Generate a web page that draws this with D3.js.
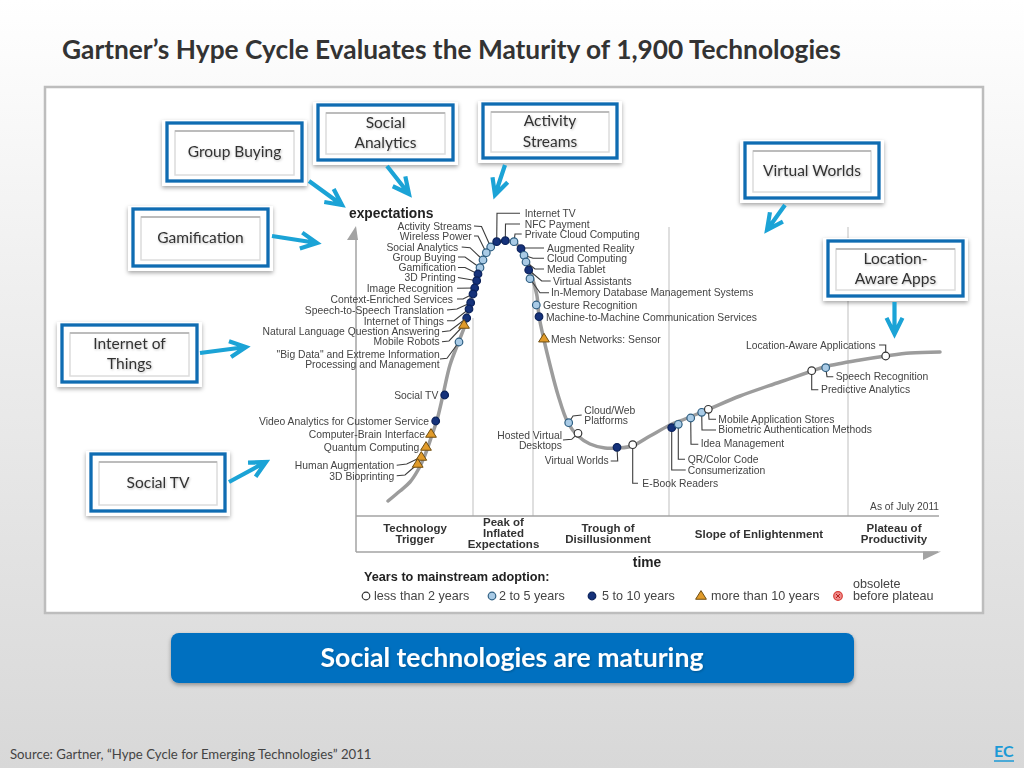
<!DOCTYPE html>
<html>
<head>
<meta charset="utf-8">
<script src="https://cdn.jsdelivr.net/npm/d3@7"></script>
<style>
  html, body { margin: 0; padding: 0; background: #fff; }
  svg { display: block; }
  .tech { font-family: "Liberation Sans", Arial, sans-serif; font-size: 10.35px; fill: #444; }
  .phase { font-family: "Liberation Sans", Arial, sans-serif; font-size: 11.5px; font-weight: bold; fill: #333; text-anchor: middle; }
  .slide { font-family: Lato, sans-serif; }
</style>
</head>
<body>
<svg id="chart" width="1024" height="768"></svg>
<script>
// Hype curve
const curveTime = [32, 44, 54, 62, 69, 76, 81, 87, 94, 103, 109, 114, 119, 124, 129, 134, 141, 150, 158, 165, 170, 174, 177, 181, 183, 188, 194, 202, 212, 222, 234, 249, 262, 276, 294, 314, 329, 352, 384, 424, 456, 470, 504, 530, 554, 584];
const curveExpect = [15, 25, 34, 46, 61, 81, 96, 121, 151, 175, 191, 214, 233, 248, 261, 269, 274, 275, 274, 267, 258, 248, 236, 220, 200, 176, 151, 121, 93, 80, 72, 68, 68, 70, 80, 91, 97, 106.5, 120, 134, 145, 149.5, 156, 160, 163, 164];

// Technologies on the curve
const techNames = ["Activity Streams", "Wireless Power", "Social Analytics", "Group Buying", "Gamification", "3D Printing", "Image Recognition", "Context-Enriched Services", "Speech-to-Speech Translation", "Internet of Things", "Natural Language Question Answering", "Mobile Robots", "\"Big Data\" and Extreme Information|Processing and Management", "Social TV", "Video Analytics for Customer Service", "Computer-Brain Interface", "Quantum Computing", "Human Augmentation", "3D Bioprinting", "Internet TV", "NFC Payment", "Private Cloud Computing", "Augmented Reality", "Cloud Computing", "Media Tablet", "Virtual Assistants", "In-Memory Database Management Systems", "Gesture Recognition", "Machine-to-Machine Communication Services", "Mesh Networks: Sensor", "Cloud/Web|Platforms", "Hosted Virtual|Desktops", "Virtual Worlds", "E-Book Readers", "Consumerization", "QR/Color Code", "Idea Management", "Biometric Authentication Methods", "Mobile Application Stores", "Predictive Analytics", "Speech Recognition", "Location-Aware Applications"];
const techTime = [134.7, 130.3, 127, 124, 122, 120.7, 118.7, 117, 114.7, 113, 110.7, 108, 103, 88.7, 79.7, 75, 70, 65.3, 61.7, 140.7, 149.3, 158, 165, 168, 170, 172.7, 174, 180.3, 183, 188, 212.7, 222, 261, 276.7, 315.7, 322.3, 334.7, 345.7, 352.3, 455.7, 469.7, 529.7];
const techExpect = [269, 263.3, 256, 248.3, 242, 235.3, 228, 222, 213.3, 207, 198, 191, 174, 121, 95, 82, 69, 59, 52, 274.3, 275.3, 274.3, 267.3, 260.7, 254, 246, 237.3, 211, 199.3, 177.3, 93.3, 82.7, 68.7, 71.3, 88.3, 91.7, 98, 103.7, 106.7, 145.3, 148.3, 160];
const techAdoption = [1, 1, 1, 1, 2, 2, 2, 2, 2, 2, 2, 3, 1, 2, 2, 3, 3, 3, 3, 2, 2, 1, 2, 1, 1, 2, 1, 1, 2, 3, 1, 0, 2, 0, 2, 1, 1, 1, 0, 0, 1, 0];

const phaseLabels = ["Technology|Trigger", "Peak of|Inflated|Expectations", "Trough of|Disillusionment", "Slope of Enlightenment", "Plateau of|Productivity"];
const phaseEnds = [117, 177, 313, 492];
const adoptionLabels = ["less than 2 years", "2 to 5 years", "5 to 10 years", "more than 10 years", "before plateau"];
const calloutLabels = ["Group Buying", "Social|Analytics", "Activity|Streams", "Virtual Worlds", "Gamification", "Location-|Aware Apps", "Internet of|Things", "Social TV"];

const svg = d3.select("#chart");
const x = d3.scaleLinear().domain([0, 584]).range([356, 940]);
const y = d3.scaleLinear().domain([0, 296]).range([516, 220]);

// defs
const defs = svg.append("defs");
const grad = defs.append("linearGradient").attr("id", "bg").attr("x1", 0).attr("y1", 0).attr("x2", 0).attr("y2", 1);
grad.append("stop").attr("offset", "0%").attr("stop-color", "#ffffff");
grad.append("stop").attr("offset", "35%").attr("stop-color", "#f0f0f0");
grad.append("stop").attr("offset", "100%").attr("stop-color", "#d8d8d8");
const shadow = defs.append("filter").attr("id", "shadow").attr("x", "-10%").attr("y", "-20%").attr("width", "120%").attr("height", "150%");
shadow.append("feDropShadow").attr("dx", 0).attr("dy", 2).attr("stdDeviation", 2).attr("flood-color", "#000").attr("flood-opacity", 0.35);
const soft = defs.append("filter").attr("id", "soft").attr("x", 0).attr("y", 0).attr("width", 1024).attr("height", 768).attr("filterUnits", "userSpaceOnUse");
soft.append("feGaussianBlur").attr("stdDeviation", 0.35);
const textShadow = defs.append("filter").attr("id", "textShadow").attr("x", "-10%").attr("y", "-20%").attr("width", "120%").attr("height", "150%");
textShadow.append("feDropShadow").attr("dx", 0.8).attr("dy", 1).attr("stdDeviation", 0.8).attr("flood-color", "#000").attr("flood-opacity", 0.25);

// slide frame
svg.append("rect").attr("width", 1024).attr("height", 768).attr("fill", "url(#bg)");
svg.append("text").attr("class", "slide").attr("x", 62).attr("y", 59)
    .attr("font-size", 26.3).attr("font-weight", 700).attr("fill", "#333")
    .text("Gartner’s Hype Cycle Evaluates the Maturity of 1,900 Technologies");
svg.append("rect").attr("x", 45).attr("y", 87).attr("width", 938).attr("height", 526)
    .attr("fill", "#fff").attr("stroke", "#bdbdbd").attr("stroke-width", 2.5);

const chart = svg.append("g").attr("filter", "url(#soft)");

// phase dividers, tops differ because the labels sit over them
const dividerTops = [318, 280, 227, 227];
phaseEnds.forEach((d, i) => {
    chart.append("line").attr("x1", x(d)).attr("x2", x(d)).attr("y1", dividerTops[i]).attr("y2", 516)
        .attr("stroke", "#d4d4d4").attr("stroke-width", 1.5);
});

// axes
const axisColor = "#a3a3a3";
chart.append("line").attr("x1", 356).attr("x2", 356).attr("y1", 238).attr("y2", 552).attr("stroke", axisColor).attr("stroke-width", 1.5);
chart.append("path").attr("d", "M356,226 L347,240 L358,240 Z").attr("fill", axisColor);
chart.append("line").attr("x1", 356).attr("x2", 939).attr("y1", 516).attr("y2", 516).attr("stroke", axisColor).attr("stroke-width", 1.5);
chart.append("line").attr("x1", 356).attr("x2", 938).attr("y1", 552).attr("y2", 552).attr("stroke", axisColor).attr("stroke-width", 1.5);
chart.append("path").attr("d", "M941,551.5 L923,551.5 L923,560 Z").attr("fill", axisColor);

// curve
const line = d3.line().x(d => x(d[0])).y(d => y(d[1])).curve(d3.curveCatmullRom);
chart.append("path").attr("d", line(d3.zip(curveTime, curveExpect)))
    .attr("fill", "none").attr("stroke", "#9c9c9c").attr("stroke-width", 3.5).attr("stroke-linecap", "round");

// where each label sits and how its leader bends: x, y, anchor, leader points
const labelLayout = [
    [471.7, 226.7, "end", [[474, 226], [481.5, 226.5]]],
    [471.7, 236, "end", [[474, 236], [478, 236]]],
    [458.3, 247, "end", [[461.7, 247], [470, 247.7]]],
    [455.7, 257, "end", [[458, 257], [465, 257]]],
    [456, 267.5, "end", [[458, 267.5], [465, 267.5]]],
    [455.7, 277.5, "end", [[458, 277.5]]],
    [453, 288.5, "end", [[457, 288.3]]],
    [453, 299, "end", [[457, 299], [463, 299]]],
    [444, 310, "end", [[447, 310], [457, 309]]],
    [444, 321, "end", [[447, 320.7], [454, 320.7]]],
    [439.7, 331, "end", [[442, 331.7], [450, 330.7]]],
    [439.7, 341, "end", [[442, 341.7], [449, 341]]],
    [439.7, 354, "end", [[440, 359], [447, 358.3]]],
    [438.3, 395.7, "end", []],
    [429, 421, "end", []],
    [425, 434, "end", []],
    [419.3, 447.3, "end", []],
    [394.3, 465.3, "end", [[396.7, 465.3], [406.7, 464]]],
    [394.3, 476, "end", [[396.7, 475.7], [405, 475]]],
    [524.7, 213.5, "start", [[520, 213.3], [497, 213.3]]],
    [524.7, 224, "start", [[520, 224], [505.5, 224]]],
    [524.7, 234, "start", [[521.7, 234], [515, 234]]],
    [547, 248, "start", [[544, 248], [523, 248]]],
    [547, 258.5, "start", [[544, 258.3], [533, 258.3]]],
    [547, 269, "start", [[544, 269], [535, 269]]],
    [553, 281, "start", [[550.7, 281], [541.7, 281]]],
    [551, 292.5, "start", [[549, 292.7], [540, 292.7]]],
    [543, 305, "start", []],
    [546, 317, "start", []],
    [551, 339, "start", []],
    [584.3, 410, "start", [[581.7, 415], [573, 416]]],
    [562, 435.3, "end", [[563, 440], [571.7, 439.3]]],
    [608.7, 460.3, "end", [[610.7, 461], [617.7, 461]]],
    [642.3, 483.3, "start", [[638, 483.3], [632.7, 483.3]]],
    [687.7, 470, "start", [[685.7, 470], [671.7, 470]]],
    [687.7, 459.3, "start", [[685, 459.3], [678.3, 459.3]]],
    [700.7, 443.3, "start", [[698.3, 444.3], [691, 444.3]]],
    [718.3, 429.3, "start", [[716, 430], [702, 430]]],
    [718.3, 419, "start", [[716, 419.3], [709, 419.3]]],
    [821, 389, "start", [[818.3, 389.7], [811.7, 389.7]]],
    [835.7, 376, "start", [[833.3, 376.7], [827, 376.7]]],
    [875.7, 345, "end", [[879, 345], [885.7, 345]]]
];

// leaders first, markers sit on top of them
const leader = d3.line();
labelLayout.forEach((l, i) => {
    if (!l[3].length) return;
    chart.append("path").attr("d", leader([...l[3], [x(techTime[i]), y(techExpect[i])]]))
        .attr("fill", "none").attr("stroke", "#3c3c3c").attr("stroke-width", 1.1);
});

// markers
const adoptFill = ["#ffffff", "#a9cbe6", "#12307a", "#e19b2c"];
const adoptStroke = ["#333333", "#2f5f82", "#0c2259", "#6e4d12"];
function marker(g, cx, cy, k) {
    if (k === 3) {
        const s = 5.4;
        g.append("path").attr("d", `M${cx},${cy - s} L${cx + s},${cy + s * 0.6} L${cx - s},${cy + s * 0.6} Z`)
            .attr("fill", adoptFill[k]).attr("stroke", adoptStroke[k]).attr("stroke-width", 1);
    } else {
        g.append("circle").attr("cx", cx).attr("cy", cy).attr("r", 3.8)
            .attr("fill", adoptFill[k]).attr("stroke", adoptStroke[k]).attr("stroke-width", 1.2);
    }
}
techNames.forEach((d, i) => marker(chart, x(techTime[i]), y(techExpect[i]), techAdoption[i]));

// labels
techNames.forEach((name, i) => {
    const l = labelLayout[i];
    name.split("|").forEach((t, j) => {
        chart.append("text").attr("class", "tech").attr("x", l[0]).attr("y", l[1] + j * 10.3)
            .attr("dy", "0.35em").attr("text-anchor", l[2]).text(t);
    });
});

// axis and phase text
chart.append("text").attr("x", 349).attr("y", 217.8).attr("font-family", "Liberation Sans").attr("font-weight", "bold")
    .attr("font-size", 13.8).attr("fill", "#222").text("expectations");
chart.append("text").attr("x", 647).attr("y", 567).attr("text-anchor", "middle").attr("font-family", "Liberation Sans").attr("font-weight", "bold")
    .attr("font-size", 13.8).attr("fill", "#222").text("time");
chart.append("text").attr("x", 939).attr("y", 510).attr("text-anchor", "end").attr("font-family", "Liberation Sans")
    .attr("font-size", 10.2).attr("fill", "#444").text("As of July 2011");
const phaseCx = [415, 503.5, 608, 759, 894];
const phaseTop = [528, 522, 528, 534, 528];
phaseLabels.forEach((p, i) => {
    p.split("|").forEach((t, j) => {
        chart.append("text").attr("class", "phase").attr("x", phaseCx[i]).attr("y", phaseTop[i] + j * 11.2)
            .attr("dy", "0.35em").text(t);
    });
});

// legend
chart.append("text").attr("x", 364).attr("y", 581).attr("font-family", "Liberation Sans").attr("font-weight", "bold")
    .attr("font-size", 12.7).attr("fill", "#222").text("Years to mainstream adoption:");
const legendMarkX = [366, 492, 592, 701];
const legendTextX = [374, 499, 602, 711, 853];
adoptionLabels.forEach((t, i) => {
    if (i < 4) marker(chart, legendMarkX[i], 596, i);
    chart.append("text").attr("class", "tech").attr("x", legendTextX[i]).attr("y", 596).attr("dy", "0.35em")
        .style("font-size", "12.6px").text(t);
});
chart.append("text").attr("class", "tech").attr("x", 853).attr("y", 584).attr("dy", "0.35em").style("font-size", "12.6px").text("obsolete");
chart.append("circle").attr("cx", 838).attr("cy", 596).attr("r", 4.3).attr("fill", "#ee8a8a").attr("stroke", "#d9403a").attr("stroke-width", 1.2);
chart.append("path").attr("d", "M836,594 L840,598 M840,594 L836,598").attr("stroke", "#b8201a").attr("stroke-width", 1);

// callout boxes: blue frame x0, y0, x1, y1
const calloutBoxes = [[167, 123, 302, 181], [318, 105, 453, 160], [483, 104, 617, 158], [745, 143, 879, 198], [133, 209, 268, 266], [828, 241, 963, 296], [62, 325, 197, 382], [91, 454, 225, 511]];
calloutLabels.forEach((label, i) => {
    const [x0, y0, x1, y1] = calloutBoxes[i];
    svg.append("rect").attr("x", x0 - 5).attr("y", y0 - 3).attr("width", x1 - x0 + 10).attr("height", y1 - y0 + 8)
        .attr("fill", "#fff").attr("filter", "url(#shadow)");
    // inner frame is darker along the top edge
    svg.append("rect").attr("x", x0 + 8).attr("y", y0 + 8).attr("width", x1 - x0 - 16).attr("height", y1 - y0 - 14)
        .attr("fill", "none").attr("stroke", "#dcdcdc").attr("stroke-width", 1.5);
    svg.append("line").attr("x1", x0 + 8).attr("x2", x1 - 8).attr("y1", y0 + 8).attr("y2", y0 + 8)
        .attr("stroke", "#bcbcbc").attr("stroke-width", 2);
    svg.append("rect").attr("x", x0).attr("y", y0).attr("width", x1 - x0).attr("height", y1 - y0)
        .attr("fill", "none").attr("stroke", "#0f6cb2").attr("stroke-width", 3.3);
    const lines = label.split("|");
    lines.forEach((t, j) => {
        svg.append("text").attr("class", "slide").attr("x", (x0 + x1) / 2).attr("y", (y0 + y1) / 2 + (j - (lines.length - 1) / 2) * 20.5)
            .attr("dy", "0.35em").attr("text-anchor", "middle").attr("font-size", 15.5).attr("fill", "#333")
            .attr("filter", "url(#textShadow)").text(t);
    });
});

// callout arrows: start and tip
const calloutArrows = [[309, 181, 342, 205], [387, 166, 409, 194], [505, 165, 495, 195], [785, 205, 767, 230], [272, 236, 317, 243], [894.5, 302, 894.5, 334], [200, 353, 246, 347], [229, 482, 266, 462]];
calloutArrows.forEach(([x0, y0, x1, y1]) => {
    const a = Math.atan2(y1 - y0, x1 - x0), h = 18, s = 0.46;
    const p = `M${x0},${y0} L${x1},${y1} M${x1 - h * Math.cos(a - s)},${y1 - h * Math.sin(a - s)} L${x1},${y1} L${x1 - h * Math.cos(a + s)},${y1 - h * Math.sin(a + s)}`;
    svg.append("path").attr("d", p).attr("fill", "none").attr("stroke", "#1ba3d6").attr("stroke-width", 4.2).attr("stroke-linejoin", "miter");
});

// banner and footer
svg.append("rect").attr("x", 171).attr("y", 633).attr("width", 683).attr("height", 50).attr("rx", 8)
    .attr("fill", "#0070c0").attr("filter", "url(#shadow)");
svg.append("text").attr("class", "slide").attr("x", 512).attr("y", 658).attr("dy", "0.35em").attr("text-anchor", "middle")
    .attr("font-size", 26.6).attr("font-weight", 700).attr("fill", "#fff").attr("filter", "url(#textShadow)")
    .text("Social technologies are maturing");
svg.append("text").attr("class", "slide").attr("x", 10).attr("y", 759).attr("font-size", 13.2).attr("fill", "#444")
    .text("Source: Gartner, “Hype Cycle for Emerging Technologies” 2011");
svg.append("text").attr("class", "slide").attr("x", 994).attr("y", 757).attr("font-size", 16).attr("font-weight", 700)
    .attr("fill", "#1c9ad6").text("EC");
svg.append("line").attr("x1", 994).attr("x2", 1014).attr("y1", 761).attr("y2", 761).attr("stroke", "#1c9ad6").attr("stroke-width", 1.5);
</script>
</body>
</html>
